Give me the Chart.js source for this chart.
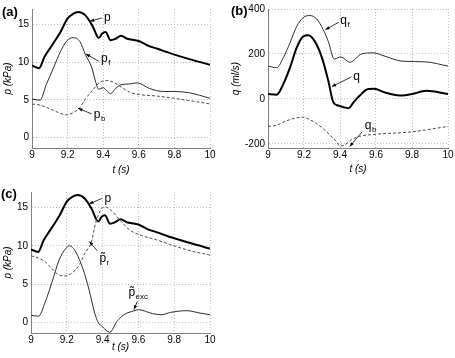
<!DOCTYPE html>
<html>
<head>
<meta charset="utf-8">
<script src="https://cdn.jsdelivr.net/npm/chart.js@4.4.0/dist/chart.umd.min.js"></script>
<style>
  body { margin: 0; background: #fff; font-family: "Liberation Sans", Arial, sans-serif; }
  #wrap { position: relative; width: 455px; height: 358px; overflow: hidden; }
  canvas { position: absolute; left: 0; top: 0; }
  .tag { position: absolute; font-weight: bold; font-size: 13px; line-height: 13px; }
</style>
</head>
<body>
<div id="wrap">
  <canvas id="panelA" width="455" height="358"></canvas>
  <canvas id="panelB" width="455" height="358"></canvas>
  <canvas id="panelC" width="455" height="358"></canvas>
  <div class="tag" style="left:2px;top:5px">(a)</div>
  <div class="tag" style="left:231px;top:4px">(b)</div>
  <div class="tag" style="left:1px;top:187px">(c)</div>
</div>
<script>
// --- dados ---
// pressão p (kPa), painéis (a) e (c)
const tP = [9.0, 9.04, 9.07, 9.12, 9.16, 9.2, 9.23, 9.26, 9.3, 9.34, 9.375, 9.395, 9.413, 9.442, 9.47, 9.5, 9.535, 9.58, 9.6, 9.65, 9.7, 9.8, 9.9, 10];
const pVals = [9.55, 9.2, 10.7, 12.5, 14.0, 15.8, 16.4, 16.65, 16.2, 14.8, 13.2, 13.8, 14.0, 12.9, 13.1, 13.5, 13.1, 12.9, 12.8, 12.2, 11.8, 11.0, 10.3, 9.65];

// onda progressiva p_f
const tPf = [9.0, 9.045, 9.08, 9.12, 9.16, 9.195, 9.232, 9.27, 9.3, 9.337, 9.356, 9.375, 9.4, 9.42, 9.44, 9.47, 9.5, 9.55, 9.59, 9.66, 9.74, 9.8, 9.88, 10];
const pfVals = [5.1, 4.95, 7.0, 9.2, 11.4, 12.8, 13.25, 12.7, 11.0, 9.2, 7.5, 6.4, 6.6, 6.2, 5.8, 6.5, 7.0, 7.1, 7.25, 6.5, 6.1, 6.1, 5.95, 5.2];

// onda regressiva p_b
const tPb = [9.0, 9.045, 9.08, 9.12, 9.16, 9.195, 9.232, 9.27, 9.3, 9.345, 9.38, 9.42, 9.46, 9.5, 9.55, 9.6, 9.7, 9.8, 9.88, 10];
const pbVals = [4.43, 4.3, 4.0, 3.6, 3.2, 3.0, 3.3, 4.0, 5.1, 6.4, 7.3, 7.57, 7.3, 6.7, 6.0, 5.7, 5.5, 5.2, 4.9, 4.45];

// fluxo q (ml/s), painel (b)
const tQ = [9.0, 9.048, 9.085, 9.122, 9.159, 9.196, 9.224, 9.26, 9.3, 9.335, 9.363, 9.39, 9.42, 9.448, 9.475, 9.51, 9.557, 9.59, 9.65, 9.745, 9.8, 9.88, 10];
const qVals = [22, 19, 66, 139, 227, 278, 283, 256, 183, 81, -15, -29, -37, -41, -15, 15, 44, 45, 29, 15, 22, 36, 22];

const tQf = [9.0, 9.048, 9.085, 9.122, 9.159, 9.196, 9.233, 9.27, 9.307, 9.335, 9.368, 9.405, 9.455, 9.52, 9.585, 9.65, 9.745, 9.875, 10];
const qfVals = [146, 139, 183, 249, 322, 362, 371, 356, 308, 256, 178, 187, 163, 200, 205, 190, 168, 165, 146];

const tQb = [9.0, 9.048, 9.085, 9.122, 9.159, 9.196, 9.233, 9.27, 9.307, 9.345, 9.38, 9.4, 9.425, 9.46, 9.51, 9.6, 9.8, 10];
const qbVals = [-122, -117, -103, -92, -84, -81, -92, -110, -132, -161, -190, -209, -205, -183, -166, -157, -146, -122];

// reservatório p_r e excesso p_exc, painel (c)
const tPr = [9.0, 9.042, 9.08, 9.118, 9.156, 9.194, 9.232, 9.27, 9.3, 9.337, 9.36, 9.39, 9.413, 9.45, 9.5, 9.55, 9.6, 9.7, 9.8, 9.9, 10];
const prVals = [8.7, 8.4, 7.9, 7.0, 6.2, 6.07, 6.5, 7.5, 9.0, 10.5, 12.9, 14.7, 15.1, 14.6, 13.3, 12.1, 11.5, 10.8, 10.0, 9.3, 8.8];

const tPexc = [9.0, 9.042, 9.08, 9.118, 9.156, 9.194, 9.215, 9.25, 9.29, 9.325, 9.356, 9.375, 9.4, 9.44, 9.48, 9.52, 9.575, 9.6, 9.68, 9.73, 9.78, 9.87, 9.945, 10];
const pexcVals = [0.92, 0.8, 2.7, 5.3, 8.1, 9.65, 10.0, 9.2, 7.0, 4.2, 1.2, 0.0, -0.6, -1.3, 0.1, 1.0, 1.5, 1.65, 1.13, 1.0, 1.3, 1.52, 1.2, 1.0];

// eixos e marcas
const tRange = [9, 10];
const tTicks = [9, 9.2, 9.4, 9.6, 9.8, 10];
const tTickLabels = ['9', '9.2', '9.4', '9.6', '9.8', '10'];
const pRange = [-1.4, 17.05];
const pTicks = [0, 5, 10, 15];
const pTickLabels = ['0', '5', '10', '15'];
const qRange = [-218, 400];
const qTicks = [-200, 0, 200, 400];
const qTickLabels = ['-200', '0', '200', '400'];

// --- rótulos das curvas (coordenadas de dados) ---
const labelsA = [
  { text: 'p', sub: '', at: [9.404, 15.5], tail: [9.392, 15.86], head: [9.326, 15.43] },
  { text: 'p', sub: 'f', at: [9.388, 10.0], tail: [9.376, 10.1], head: [9.303, 11.09] },
  { text: 'p', sub: 'b', at: [9.347, 2.55], tail: [9.335, 3.13], head: [9.26, 3.86] }
];
const labelsB = [
  { text: 'q', sub: 'f', at: [9.402, 335], tail: [9.393, 341], head: [9.319, 308] },
  { text: 'q', sub: '', at: [9.473, 86], tail: [9.463, 98], head: [9.355, 55] },
  { text: 'q', sub: 'b', at: [9.538, -134], tail: [9.523, -146], head: [9.454, -211] }
];
const labelsC = [
  { text: 'p', sub: '', at: [9.41, 15.8], tail: [9.395, 16.2], head: [9.326, 15.5] },
  { text: 'p\u0303', sub: 'r', at: [9.382, 7.86], tail: [9.37, 9.36], head: [9.326, 10.57] },
  { text: 'p\u0303', sub: 'exc', at: [9.544, 3.49], tail: [9.594, 2.74], head: [9.575, 1.66] }
];

const FONT = '"Liberation Sans", Arial, sans-serif';

function pts(ts, vs) {
  return ts.map((t, i) => ({ x: t, y: vs[i] }));
}

// Desenha setas e rótulos das curvas
const curveLabels = {
  id: 'curveLabels',
  afterDatasetsDraw(chart, args, opts) {
    const { ctx } = chart;
    const sx = chart.scales.x, sy = chart.scales.y;
    ctx.save();
    (opts.items || []).forEach(it => {
      const hx = sx.getPixelForValue(it.head[0]), hy = sy.getPixelForValue(it.head[1]);
      const tx = sx.getPixelForValue(it.tail[0]), ty = sy.getPixelForValue(it.tail[1]);
      ctx.strokeStyle = '#000';
      ctx.fillStyle = '#000';
      ctx.lineWidth = 0.8;
      ctx.setLineDash([]);
      ctx.beginPath();
      ctx.moveTo(tx, ty);
      ctx.lineTo(hx, hy);
      ctx.stroke();
      const ang = Math.atan2(hy - ty, hx - tx);
      const L = 4.5, W = 0.38;
      ctx.beginPath();
      ctx.moveTo(hx, hy);
      ctx.lineTo(hx - L * Math.cos(ang - W), hy - L * Math.sin(ang - W));
      ctx.lineTo(hx - L * Math.cos(ang + W), hy - L * Math.sin(ang + W));
      ctx.closePath();
      ctx.fill();

      const lx = sx.getPixelForValue(it.at[0]), ly = sy.getPixelForValue(it.at[1]);
      ctx.textAlign = 'left';
      ctx.textBaseline = 'alphabetic';
      ctx.font = '12px ' + FONT;
      ctx.fillText(it.text, lx, ly);
      const w = ctx.measureText('p').width;
      if (it.sub) {
        ctx.font = '8px ' + FONT;
        ctx.fillText(it.sub, lx + w + 0.5, ly + 3);
      }
    });
    ctx.restore();
  }
};

function fixedTicks(values) {
  return s => { s.ticks = values.map(v => ({ value: v })); };
}

function tickText(values, labels) {
  return v => {
    const i = values.findIndex(t => Math.abs(t - v) < 1e-9);
    return i >= 0 ? labels[i] : '';
  };
}

function makeChart(id, cfg) {
  const area = cfg.area;
  return new Chart(document.getElementById(id), {
    type: 'line',
    data: { datasets: cfg.datasets },
    options: {
      responsive: false,
      animation: false,
      devicePixelRatio: 1,
      layout: {
        padding: {
          left: area.l - cfg.yW,
          top: area.t,
          right: 455 - area.r,
          bottom: 358 - area.b - cfg.xH
        }
      },
      elements: { point: { radius: 0 }, line: { cubicInterpolationMode: 'monotone' } },
      scales: {
        x: {
          type: 'linear',
          min: tRange[0], max: tRange[1],
          afterBuildTicks: fixedTicks(tTicks),
          afterFit: s => { s.height = cfg.xH; },
          ticks: { padding: 1, color: '#000', font: { size: 10, family: FONT }, maxRotation: 0, autoSkip: false, callback: tickText(tTicks, tTickLabels) },
          grid: { color: '#bdbdbd', lineWidth: 1, drawTicks: false },
          border: { display: true, color: '#808080', width: 1, dash: [1, 2] },
          title: { display: true, text: 't (s)', color: '#000', padding: 0, font: { size: 10, style: 'italic', family: FONT } }
        },
        y: {
          type: 'linear',
          min: cfg.yRange[0], max: cfg.yRange[1],
          afterBuildTicks: fixedTicks(cfg.yTicks),
          afterFit: s => { s.width = cfg.yW; },
          ticks: { padding: 3, color: '#000', font: { size: 10, family: FONT }, autoSkip: false, callback: tickText(cfg.yTicks, cfg.yTickLabels) },
          grid: { color: '#bdbdbd', lineWidth: 1, drawTicks: false },
          border: { display: true, color: '#808080', width: 1, dash: [1, 2] },
          title: { display: true, text: cfg.yTitle, color: '#000', padding: { top: 2, bottom: 0 }, font: { size: 10, style: 'italic', family: FONT } }
        }
      },
      plugins: {
        legend: { display: false },
        tooltip: { enabled: false },
        curveLabels: { items: cfg.labels }
      }
    },
    plugins: [curveLabels]
  });
}

const thick = { borderColor: '#000', borderWidth: 2, fill: false };
const thin = { borderColor: '#2a2a2a', borderWidth: 1, fill: false };
const dashed = { borderColor: '#4a4a4a', borderWidth: 1, borderDash: [3, 2], fill: false };

makeChart('panelA', {
  area: { l: 32, t: 7, r: 210, b: 148 }, yW: 32, xH: 28,
  yRange: pRange, yTicks: pTicks, yTickLabels: pTickLabels, yTitle: 'p (kPa)',
  labels: labelsA,
  datasets: [
    { ...dashed, data: pts(tPb, pbVals) },
    { ...thin, data: pts(tPf, pfVals) },
    { ...thick, data: pts(tP, pVals) }
  ]
});

makeChart('panelB', {
  area: { l: 268, t: 7, r: 448, b: 148 }, yW: 40, xH: 27,
  yRange: qRange, yTicks: qTicks, yTickLabels: qTickLabels, yTitle: 'q (ml/s)',
  labels: labelsB,
  datasets: [
    { ...dashed, data: pts(tQb, qbVals) },
    { ...thin, data: pts(tQf, qfVals) },
    { ...thick, data: pts(tQ, qVals) }
  ]
});

makeChart('panelC', {
  area: { l: 31, t: 192, r: 210, b: 333 }, yW: 31, xH: 20,
  yRange: pRange, yTicks: pTicks, yTickLabels: pTickLabels, yTitle: 'p (kPa)',
  labels: labelsC,
  datasets: [
    { ...dashed, data: pts(tPr, prVals) },
    { ...thin, data: pts(tPexc, pexcVals) },
    { ...thick, data: pts(tP, pVals) }
  ]
});
</script>
</body>
</html>
